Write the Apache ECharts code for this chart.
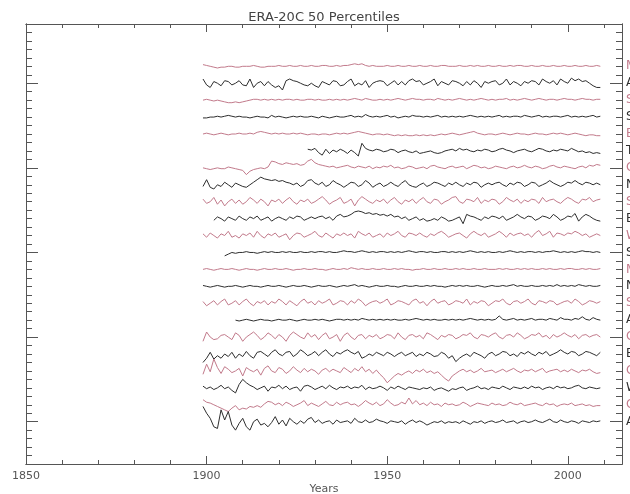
<!DOCTYPE html>
<html>
<head>
<meta charset="utf-8">
<script src="https://cdn.jsdelivr.net/npm/echarts@6/dist/echarts.min.js"></script>
<style>
  html, body { margin: 0; padding: 0; background: #fff; }
  #chart { width: 630px; height: 494px; }
</style>
</head>
<body>
<div id="chart"></div>
<script>
// station labels, top to bottom (only the first letter is inside the picture)
var names = ['M','A','S','S','E','T','C','N','S','E','W','S','M','N','S','A','C','E','C','W','C','A'];
var startYears = [1899,1899,1899,1899,1899,1928,1899,1899,1899,1902,1899,1905,1899,1899,1899,1908,1899,1899,1899,1899,1899,1899];
var pink = '#c27a8b', dark = '#2e2e2e';

// x / y tick values
var xMinorStep = 10, xMajorStep = 50;
var yTicks = [];
for (var t = -5; t <= 47; t++) yTicks.push(String(t));

// yearly values, tenths of a y unit around each line's own baseline
var s01 = [2,1,0,-1,-2,-1,-1,0,0,-1, -1,0,0,0,1,0,-1,-1,0,0, 0,1,0,0,1,0,0,1,0,0, 1,0,0,1,1,0,0,1,0,1, 1,2,3,2,3,1,0,1,0,0, 0,1,0,0,1,0,0,1,0,0, 1,0,0,1,0,0,1,1,0,0, 0,1,0,0,1,0,1,0,0,1, 0,0,1,0,0,1,0,1,1,0, 0,1,0,0,1,0,0,1,0,0, 1,0,0,1,0,0,1,0,0,1, 0];
var s02 = [5,-2,-5,2,0,-3,3,2,-2,0, 3,-2,-3,5,-5,0,2,-3,2,-2, -5,-3,-8,3,5,3,2,0,-2,-3, 0,-3,-5,2,0,-2,3,2,-3,-2, 2,5,-3,0,-2,3,-5,0,2,3, 2,-3,0,3,-2,2,-2,3,5,2, 3,-2,0,2,5,-3,2,0,-2,3, 2,0,-3,2,-2,3,0,-5,2,0, 2,3,-2,0,5,-2,2,0,-3,2, 0,3,2,-2,5,2,0,3,-2,5, 2,0,6,3,5,2,3,0,-3,-5, -5];
var s03 = [0,1,0,-1,0,-1,-2,-3,-3,-2, -3,-2,-1,0,1,1,0,1,0,1, 0,1,0,1,1,0,1,0,0,1, 1,0,1,0,0,1,0,1,0,1, 0,1,2,1,0,2,1,0,0,1, 0,1,0,1,2,1,0,1,2,1, 1,0,1,1,0,2,1,0,1,0, 1,2,1,0,1,0,1,2,1,0, 1,0,1,1,2,0,1,0,1,2, 1,0,1,2,1,0,1,1,0,1, 2,1,1,0,1,2,1,1,0,1, 1];
var s04 = [-1,-1,0,0,1,0,1,2,1,0, 1,0,0,-1,0,1,0,0,-1,2, 0,1,0,-1,0,1,0,1,0,0, 1,0,-1,1,0,-1,0,1,0,0, 1,2,0,1,0,3,1,0,1,0, 1,2,0,1,-1,0,1,0,2,1, 1,0,1,0,1,2,0,1,0,1, 0,1,0,1,2,1,0,1,0,1, 0,1,2,0,1,0,1,1,0,2, 1,0,1,2,0,1,0,1,1,0, 1,2,0,1,0,1,0,1,2,0, 1];
var s05 = [0,1,0,-1,0,1,0,-1,0,0, 1,0,0,1,0,2,3,2,1,0, 1,0,1,0,0,1,0,1,0,-1, 0,0,-1,0,0,-1,0,1,0,1, 0,1,2,3,2,1,0,-1,0,0, -1,0,-1,-2,-1,-2,-1,-2,-2,-1, -2,-1,-2,-1,-2,-1,0,-1,0,1, 0,-1,0,1,2,3,1,0,-1,0, 0,-1,0,1,0,-1,0,1,0,0, -1,0,1,0,0,-1,0,1,0,1, 0,-1,0,1,0,-1,-2,-1,-1,-2, -2];
var s06 = [2,1,3,-2,-5,2,-3,1,-1,2, 0,-3,1,-2,-6,9,3,1,0,2, 1,-1,0,2,1,-2,0,1,-1,-2, 0,-3,-2,-1,0,-2,-3,-2,0,1, 2,0,3,1,2,0,-1,1,0,2, 1,-1,0,2,3,1,0,-2,0,1, 2,0,-1,1,3,2,0,-1,1,0, 2,1,0,3,1,-1,0,-2,-1,-3, -2,-3];
var s07 = [0,-1,-2,-1,0,-1,-1,1,0,-1, -2,-3,-8,-4,-2,-1,0,-1,1,8, 7,5,4,6,5,4,5,3,4,8, 10,6,4,3,2,1,2,0,1,2, 3,1,0,2,1,0,2,-1,1,0, 2,1,3,0,1,-1,0,2,1,-1, 0,1,-1,2,3,1,0,-1,1,2, 0,1,2,-1,1,3,2,0,1,-1, 0,2,1,0,-1,1,2,0,1,3, 1,0,2,1,-1,0,2,3,1,0, 2,1,0,-1,1,2,0,3,2,4, 3];
var s08 = [-2,6,-3,-5,0,-2,3,0,-3,2, 0,-2,-3,0,3,6,9,7,6,5, 6,4,5,3,2,0,2,-2,0,5, 6,2,0,3,-2,0,5,2,0,-3, 0,3,2,-2,0,5,2,-3,0,2, -2,0,3,0,-2,2,5,0,-2,-3, 0,2,-2,0,3,2,0,-2,2,0, 3,0,-2,2,0,3,2,-3,0,2, 0,2,3,0,-2,2,0,3,2,-2, 0,3,2,-2,0,2,5,2,0,-2, 0,3,2,5,2,0,3,2,0,2, 0];
var s09 = [3,-2,0,5,-3,2,-5,0,3,-2, 2,-3,0,5,2,-2,3,0,-5,2, 0,3,-2,2,5,0,-3,2,0,3, -2,0,3,6,2,-3,0,2,5,-2, 0,3,-5,2,6,3,0,-2,2,0, 3,-2,2,5,0,-3,2,0,3,-2, 2,5,0,-2,3,2,-3,0,2,5, 6,0,-2,3,2,0,5,-2,2,0, 3,2,-3,0,5,2,0,3,-2,2, 0,3,2,-2,5,0,2,3,0,-2, 2,5,3,0,-2,3,2,5,0,2, 3];
var s10 = [-2,2,0,-3,2,0,-2,3, 0,-2,2,0,3,-2,0,2,-3,0, 2,0,-2,2,0,3,2,-2,0,2, 0,2,3,0,2,-2,3,5,2,3, 5,8,9,8,6,7,5,6,4,5, 3,5,2,3,0,2,-2,0,2,-2, 0,-3,-2,0,-2,2,0,-3,-2,0, 2,-6,5,3,2,0,-2,2,0,3, 2,0,3,-2,0,2,5,2,0,3, 2,-2,0,3,2,0,5,2,-2,0, 3,2,6,-3,2,5,3,0,-2,-3];
var s11 = [2,-2,3,0,-3,2,0,5,-2,0, -3,2,0,3,-2,5,0,-3,2,0, 3,-2,0,2,-5,0,3,2,-2,0, 2,5,0,-2,3,0,-3,2,0,3, 0,2,-3,5,2,0,3,-2,0,2, -2,3,0,2,5,0,-2,3,2,0, 3,0,-2,2,0,3,5,2,-2,0, 2,3,0,-3,2,5,2,0,3,-2, 0,2,5,2,-2,3,0,2,3,0, 2,-2,3,6,0,2,5,-2,3,2, 0,3,2,5,3,0,2,-2,0,2, 0];
var s12 = [-4,-2,0,-1,0, 0,1,0,0,-1,0,1,0,1,0, 0,1,0,1,0,0,1,0,0,1, 0,1,1,0,1,0,0,1,2,1, 1,0,1,2,1,0,1,0,1,1, 0,1,0,1,0,1,2,1,0,1, 1,0,1,0,0,1,1,0,1,0, 1,0,1,2,1,0,1,0,1,0, 0,1,0,1,2,1,0,1,0,1, 1,0,1,0,1,1,2,1,0,1, 0,1,0,1,2,1,1,0,1,0];
var s13 = [0,1,0,-1,0,1,0,0,1,0, -1,0,1,0,0,-1,0,1,0,0, 1,0,0,1,0,-1,0,0,1,0, 0,1,0,0,-1,0,1,0,0,1, 0,2,1,0,1,0,0,1,0,0, 1,0,0,1,0,1,0,0,-1,0, 0,1,0,0,1,0,0,1,0,0, 1,0,1,0,0,1,0,0,1,0, 0,0,1,0,1,0,0,1,0,1, 0,1,0,0,1,0,1,0,0,1, 0,1,1,0,0,1,0,1,0,0, 1];
var s14 = [1,0,-1,0,1,0,-1,0,0,1, 0,-1,0,1,0,0,-1,0,1,0, 0,1,0,-1,0,1,0,0,1,0, -1,0,1,0,0,1,0,-1,0,1, 0,1,2,0,1,0,-1,0,1,0, 0,1,0,0,-1,0,1,0,0,1, 0,0,1,0,1,0,0,-1,0,1, 0,1,0,1,0,0,1,0,-1,0, 1,0,0,1,0,1,2,0,1,0, 0,1,0,0,1,0,1,0,2,0, 1,0,1,0,2,1,0,1,0,0, 1];
var s15 = [2,-3,0,3,-2,2,5,-2,0,3, -2,2,5,0,-3,2,0,3,-2,2, 0,5,2,-2,3,0,-3,2,5,0, 2,-2,3,0,2,5,-2,0,3,2, -2,3,0,5,2,-3,0,2,3,0, 2,5,-2,0,3,2,0,-2,3,5, 0,2,-3,2,5,0,2,3,-2,0, 3,2,0,5,-2,2,0,3,2,-3, 0,3,2,5,0,-2,2,3,0,2, 5,0,-2,3,2,0,3,2,-2,0, 2,3,0,5,2,-2,0,3,2,0, 2];
var s16 = [0,-1, 0,1,0,-1,0,1,0,0,-1,0, 1,0,0,1,0,-1,0,1,0,0, 1,0,1,0,-1,0,1,1,0,1, 0,1,0,2,1,0,1,0,1,0, 1,0,1,0,0,1,0,1,2,1, 0,1,0,1,0,0,1,0,1,0, 1,0,1,2,1,0,1,0,1,0, 1,5,1,0,1,2,0,1,0,1, 2,0,1,1,0,2,1,0,3,1, 1,0,2,1,4,1,0,3,1,0];
var s17 = [-5,6,0,-3,-2,2,3,0,-3,5, 2,-5,0,3,6,2,-3,0,5,2, -2,3,0,-5,2,6,3,0,-2,5, 0,3,-3,2,5,-2,0,3,-5,2, 5,0,-3,2,3,-2,2,0,3,-2, 0,3,2,-2,5,0,-3,2,3,0, 2,-2,5,3,0,-3,2,0,3,2, -2,0,3,2,5,0,-2,3,2,0, 3,5,0,-2,2,3,0,5,2,-2, 0,3,2,5,0,2,-2,3,0,2, 5,2,0,3,-2,2,3,0,2,3, 0];
var s18 = [-10,-5,2,-6,-2,-5,0,-3,2,-5, 0,-3,3,-2,-5,2,3,0,-3,2, 5,0,-2,2,3,-3,0,5,2,-2, 0,3,-2,2,5,0,-3,2,0,3, 5,2,0,3,-5,-3,0,-2,2,0, -2,2,0,-3,0,2,-2,0,2,-3, 0,-2,2,0,-3,-2,2,0,-5,-2, -9,-5,-2,0,-3,2,0,-2,-5,0, 2,-2,0,3,2,-2,0,-3,2,0, 3,0,-2,2,0,3,-2,0,2,5, 2,0,3,2,-2,0,3,2,0,-2, 2];
var s19 = [-4,8,-1,14,4,-3,5,2,-2,0, 3,-6,4,1,-1,2,-5,3,6,0, -2,4,2,-3,0,5,1,-2,3,-1, 2,0,-4,1,3,-1,2,0,-2,4, 1,-2,3,0,5,-1,2,-3,1,-4, -8,-14,-10,-6,-3,-5,-2,0,-3,1, -1,2,-2,0,-3,-1,-5,-9,-12,-6, -3,0,2,-1,1,-2,0,3,-1,0, 1,-2,0,2,-1,1,3,0,-2,1, 0,2,-1,1,3,-2,0,1,2,-1, 1,-1,2,0,-2,1,0,2,-1,-3, -2];
var s20 = [2,-1,1,-2,0,3,-1,1,-3,-6, 4,10,6,3,1,-2,0,2,-4,1, 0,3,-1,2,-2,0,1,-4,2,3, 1,-2,0,2,-1,3,0,-2,1,0, 2,-1,1,0,3,-2,1,-1,0,2, 0,-3,1,-1,2,0,-2,1,0,-1, -2,0,-1,1,-3,-1,0,-2,-4,-1, -2,0,1,-3,-1,0,2,-1,0,-2, 1,0,-1,2,0,-2,1,0,-1,1, -1,2,0,1,-2,0,1,-1,2,0, 1,-1,0,2,3,0,-1,1,0,-1, 0];
var s21 = [6,3,2,0,-2,-4,-6,-8,-4,-1, -6,-4,-5,-2,-3,-1,-3,1,4,3, 0,2,-1,3,1,-2,0,2,5,-1, 2,0,-2,1,4,0,-1,3,0,2, 3,0,1,-2,1,5,2,0,3,-1, 1,6,2,-1,0,3,1,8,1,5, 0,2,-1,3,0,1,-2,2,0,1, -1,0,3,1,-2,0,2,1,0,-1, 2,0,1,-1,0,3,1,0,2,-1, 0,1,2,0,-1,2,0,1,-2,0, 1,0,2,-1,0,1,-1,0,-2,-1, -1];
var s22 = [18,10,4,-6,-8,14,2,12,-4,-10, -2,4,-6,-10,0,3,-4,-2,-6,-1, 6,-3,2,-5,4,0,-3,1,-2,3, 5,-1,2,-2,0,1,-3,2,-1,0, 1,-2,4,0,-1,2,-1,0,3,1, 0,-2,1,0,-1,1,-3,0,2,-1, 1,-1,-4,-2,0,-1,1,-2,0,-1, 0,-2,1,-1,-3,0,-1,1,-2,0, 1,-1,0,2,-1,0,1,-2,0,1, -1,0,2,0,-1,1,3,0,-1,2, 0,-1,1,0,-2,1,0,-1,1,0, 1];

var allSeries = [s01,s02,s03,s04,s05,s06,s07,s08,s09,s10,s11,s12,s13,s14,s15,s16,s17,s18,s19,s20,s21,s22];
var n = allSeries.length;

function colorOf(i) { return i % 2 === 0 ? pink : dark; }

var series = allSeries.map(function (vals, i) {
  var base = 2 * (n - 1 - i);
  return {
    type: 'line',
    name: names[i],
    symbol: 'none',
    animation: false,
    silent: true,
    lineStyle: { color: colorOf(i), width: 1 },
    data: vals.map(function (v, k) { return [startYears[i] + k, base + v / 10]; })
  };
});

var axisColor = '#555';
var lineStyle = { color: axisColor, width: 1 };

function xAxisOf(pos, step, len, withLabels) {
  return {
    type: 'value', position: pos, min: 1850, max: 2015, interval: step,
    axisLine: { show: true, onZero: false, lineStyle: lineStyle },
    axisTick: { show: true, inside: true, length: len, lineStyle: lineStyle },
    splitLine: { show: false },
    axisLabel: withLabels ? {
      color: '#555', fontSize: 11, fontFamily: 'DejaVu Sans', margin: 7,
      formatter: function (v) { return v % xMajorStep === 0 ? String(v) : ''; }
    } : { show: false },
    name: withLabels ? 'Years' : '',
    nameLocation: 'middle', nameGap: 20, nameMoveOverlap: false,
    nameTextStyle: { color: '#555', fontSize: 11, fontFamily: 'DejaVu Sans' }
  };
}

function yMinorOf(pos) {
  return {
    type: 'value', position: pos, min: -5, max: 47, interval: 1,
    axisLine: { show: true, onZero: false, lineStyle: lineStyle },
    axisTick: { show: true, inside: true, length: 6, lineStyle: lineStyle },
    axisLabel: { show: false }, splitLine: { show: false }
  };
}

function isMajor(idx) { return Number(yTicks[idx]) % 10 === 0; }
function labelIndex(v) {
  var k = Number(v);
  if (k < 0 || k % 2 !== 0) return -1;
  var i = n - 1 - k / 2;
  return i >= 0 && i < n ? i : -1;
}

function yMajorOf(pos, withLabels) {
  return {
    type: 'category', position: pos, data: yTicks, boundaryGap: false,
    axisLine: { show: true, onZero: false, lineStyle: lineStyle },
    axisTick: { show: true, inside: true, length: 12, lineStyle: lineStyle,
      interval: function (idx) { return isMajor(idx); } },
    splitLine: { show: false },
    axisLabel: withLabels ? {
      show: true, margin: 4, fontSize: 12, fontFamily: 'DejaVu Sans',
      interval: function (idx, v) { return labelIndex(v) >= 0; },
      formatter: function (v) { var i = labelIndex(v); return i >= 0 ? names[i] : ''; },
      color: function (v) { var i = labelIndex(v); return i >= 0 ? colorOf(i) : '#555'; }
    } : { show: false }
  };
}

var chart = echarts.init(document.getElementById('chart'), null, { renderer: 'canvas' });
chart.setOption({
  animation: false,
  backgroundColor: '#fff',
  grid: { left: 26, right: 8, top: 24, bottom: 30, containLabel: false, outerBoundsMode: 'none' },
  graphic: [{
    type: 'text', x: 324, y: 11,
    style: { text: 'ERA-20C 50 Percentiles', fill: '#444', fontSize: 13, fontFamily: 'DejaVu Sans', textAlign: 'center' }
  }],
  xAxis: [
    xAxisOf('bottom', xMinorStep, 4, false),
    xAxisOf('bottom', xMajorStep, 8, true),
    xAxisOf('top', xMinorStep, 4, false),
    xAxisOf('top', xMajorStep, 8, false)
  ],
  yAxis: [
    yMinorOf('left'),
    yMajorOf('left', false),
    yMinorOf('right'),
    yMajorOf('right', true)
  ],
  series: series
});
</script>
</body>
</html>
